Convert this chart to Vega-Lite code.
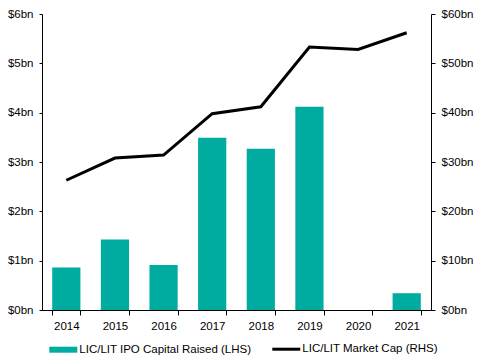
{
  "$schema": "https://vega.github.io/schema/vega-lite/v6.json",
  "width": 389,
  "height": 296,
  "autosize": {"type": "none"},
  "padding": {"left": 42, "top": 14, "right": 53, "bottom": 51},
  "background": "white",
  "config": {
    "font": "Liberation Sans",
    "view": {"stroke": null},
    "axis": {
      "grid": false,
      "domainColor": "black",
      "domainWidth": 1,
      "tickColor": "black",
      "tickWidth": 1,
      "labelColor": "black",
      "labelFont": "Liberation Sans",
      "labelFontSize": 11.5,
      "title": null
    },
    "legend": {
      "title": null,
      "orient": "none",
      "padding": 0,
      "symbolType": "stroke",
      "symbolSize": 784,
      "labelFont": "Liberation Sans",
      "labelFontSize": 11.5,
      "labelColor": "black",
      "labelLimit": 400,
      "symbolOpacity": 1
    }
  },
  "data": {
    "values": [
      {"year": "2014", "raised": 0.86, "mcap": 26.3},
      {"year": "2015", "raised": 1.43, "mcap": 30.8},
      {"year": "2016", "raised": 0.91, "mcap": 31.4},
      {"year": "2017", "raised": 3.49, "mcap": 39.8},
      {"year": "2018", "raised": 3.27, "mcap": 41.2},
      {"year": "2019", "raised": 4.12, "mcap": 53.3},
      {"year": "2020", "raised": 0, "mcap": 52.8},
      {"year": "2021", "raised": 0.34, "mcap": 56.2}
    ]
  },
  "encoding": {
    "x": {
      "field": "year",
      "type": "ordinal",
      "scale": {"paddingInner": 0.42, "paddingOuter": 0.21},
      "axis": {
        "title": null,
        "labelAngle": 0,
        "tickBand": "extent",
        "tickSize": 5,
        "labelPadding": 5
      }
    }
  },
  "layer": [
    {
      "mark": {"type": "bar"},
      "encoding": {
        "y": {
          "field": "raised",
          "type": "quantitative",
          "scale": {"domain": [0, 6], "nice": false},
          "axis": {
            "orient": "left",
            "values": [0, 1, 2, 3, 4, 5, 6],
            "labelExpr": "'$' + datum.value + 'bn'",
            "tickSize": 3,
            "labelPadding": 6
          }
        },
        "fill": {
          "datum": "LIC/LIT IPO Capital Raised (LHS)",
          "scale": {"range": ["#00AB9F"]},
          "legend": {
            "legendX": 4.3,
            "legendY": 318.7,
            "symbolStrokeColor": "#00AB9F",
            "symbolStrokeWidth": 6,
            "labelOffset": -1,
            "encode": {
              "symbols": {
                "update": {
                  "stroke": {"value": "#00AB9F"},
                  "strokeWidth": {"value": 6},
                  "strokeCap": {"value": "butt"},
                  "fill": {"value": "transparent"}
                }
              }
            }
          }
        }
      }
    },
    {
      "mark": {"type": "line", "strokeWidth": 3},
      "encoding": {
        "y": {
          "field": "mcap",
          "type": "quantitative",
          "scale": {"domain": [0, 60], "nice": false},
          "axis": {
            "orient": "right",
            "values": [0, 10, 20, 30, 40, 50, 60],
            "labelExpr": "'$' + datum.value + 'bn'",
            "tickSize": 4,
            "labelPadding": 6
          }
        },
        "stroke": {
          "datum": "LIC/LIT Market Cap (RHS)",
          "scale": {"range": ["#000000"]},
          "legend": {
            "legendX": 228.8,
            "legendY": 319.7,
            "symbolStrokeWidth": 3,
            "labelOffset": 0.5,
            "encode": {
              "symbols": {
                "update": {
                  "stroke": {"value": "#000000"},
                  "strokeWidth": {"value": 3},
                  "strokeCap": {"value": "butt"}
                }
              }
            }
          }
        }
      }
    }
  ],
  "resolve": {"scale": {"y": "independent"}}
}
